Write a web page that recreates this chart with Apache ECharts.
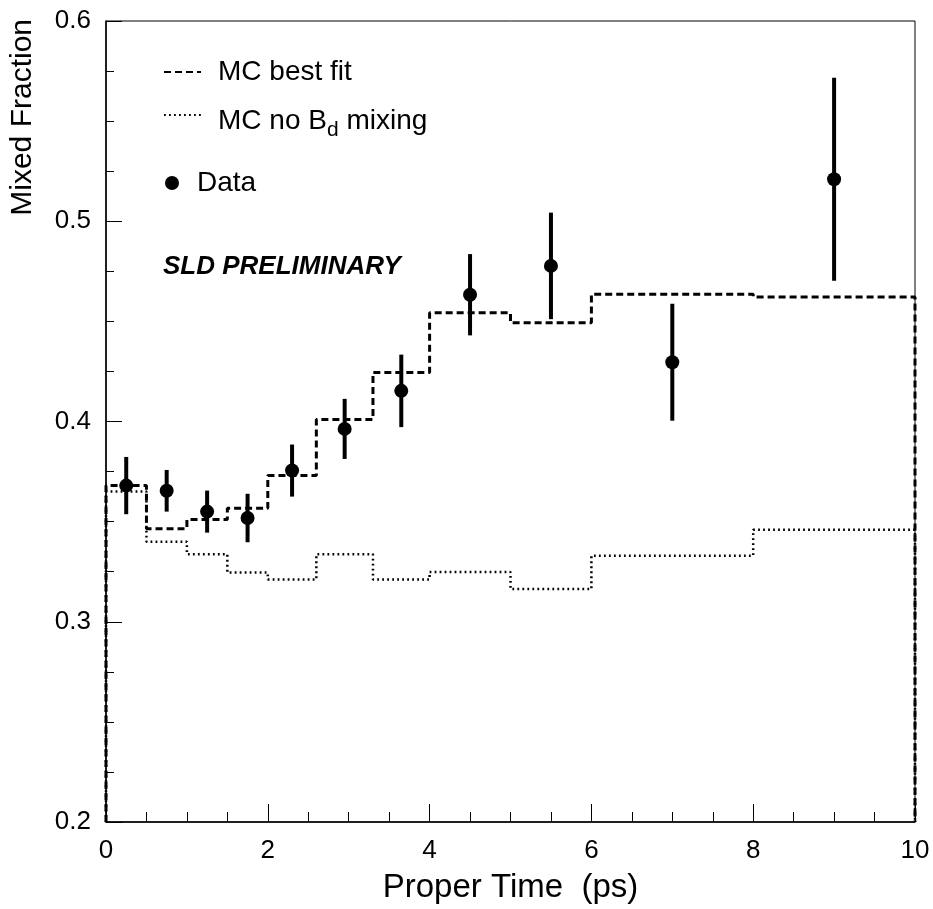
<!DOCTYPE html>
<html>
<head>
<meta charset="utf-8">
<script src="https://cdn.jsdelivr.net/npm/echarts@6/dist/echarts.min.js"></script>
<style>
  html, body { margin: 0; padding: 0; background: #fff; }
  #chart { width: 933px; height: 909px; }
</style>
</head>
<body>
<div id="chart"></div>
<script>
// Proper-time bins (ps) shared by both Monte Carlo histograms
const binEdges = [0, 0.5, 1, 1.5, 2, 2.6, 3.3, 4, 5, 6, 8, 10];
// Mixed fraction per bin, MC with best-fit mixing
const bestFit = [0.368, 0.3465, 0.351, 0.3567, 0.373, 0.401, 0.4245, 0.4543, 0.4493, 0.4635, 0.4622];
// Mixed fraction per bin, MC without B_d mixing
const noMixing = [0.365, 0.340, 0.3337, 0.3246, 0.3211, 0.3337, 0.3211, 0.3249, 0.3163, 0.333, 0.3459];
// Measured points: bin centre, mixed fraction, error
const dataTime = [0.25, 0.75, 1.25, 1.75, 2.3, 2.95, 3.65, 4.5, 5.5, 7.0, 9.0];
const dataFrac = [0.368, 0.3654, 0.355, 0.3518, 0.3755, 0.3963, 0.4153, 0.4633, 0.4777, 0.4296, 0.521];
const dataErr = [0.0143, 0.0104, 0.0105, 0.0121, 0.013, 0.015, 0.0181, 0.0203, 0.0266, 0.0292, 0.0507];
// Axis ranges and ticks
const xRange = [0, 10];
const yRange = [0.2, 0.6];
const xTickStep = 2;
const yTickStep = 0.1;

const FONT = '"Liberation Sans", Arial, Helvetica, sans-serif';

// Build a histogram outline (closed down to the axis floor at both ends)
function histOutline(edges, values, floor) {
  const pts = [[edges[0], floor]];
  for (let i = 0; i < values.length; i++) {
    pts.push([edges[i], values[i]]);
    pts.push([edges[i + 1], values[i]]);
  }
  pts.push([edges[edges.length - 1], floor]);
  return pts;
}

const points = dataTime.map((t, i) => [t, dataFrac[i], dataErr[i]]);

const chart = echarts.init(document.getElementById('chart'), null, { renderer: 'canvas' });

// Legend entries for the histograms show only the line pattern, no marker
const lineLegendItem = { color: 'transparent', borderColor: 'transparent', borderWidth: 0 };

chart.setOption({
  animation: false,
  backgroundColor: '#fff',
  textStyle: { fontFamily: FONT, color: '#000' },
  grid: {
    left: 106, right: 18, top: 21, bottom: 81,
    show: true, borderColor: '#000', borderWidth: 1, backgroundColor: 'transparent'
  },
  xAxis: {
    type: 'value',
    min: xRange[0], max: xRange[1], interval: xTickStep,
    name: 'Proper Time  (ps)',
    nameLocation: 'middle',
    nameGap: 49,
    nameTextStyle: { fontFamily: FONT, fontSize: 33, color: '#000' },
    axisLine: { show: true, lineStyle: { color: '#000', width: 1.5 } },
    axisTick: { show: true, inside: true, length: 18, lineStyle: { color: '#000', width: 1 } },
    minorTick: { show: true, splitNumber: 4, length: 10, lineStyle: { color: '#000', width: 1 } },
    splitLine: { show: false },
    minorSplitLine: { show: false },
    axisLabel: { fontFamily: FONT, fontSize: 26, color: '#000', margin: 16 }
  },
  yAxis: {
    type: 'value',
    min: yRange[0], max: yRange[1], interval: yTickStep,
    axisLine: { show: true, lineStyle: { color: '#000', width: 1.5 } },
    axisTick: { show: true, inside: true, length: 16, lineStyle: { color: '#000', width: 1 } },
    minorTick: { show: true, splitNumber: 4, length: 8, lineStyle: { color: '#000', width: 1 } },
    splitLine: { show: false },
    minorSplitLine: { show: false },
    axisLabel: {
      fontFamily: FONT, fontSize: 26, color: '#000', margin: 15,
      formatter: v => v.toFixed(1)
    }
  },
  legend: [
    {
      data: ['MC best fit'],
      left: 163, top: 58, padding: 0,
      itemWidth: 37, itemHeight: 14,
      itemStyle: lineLegendItem,
      textStyle: { fontFamily: FONT, fontSize: 28, lineHeight: 28, color: '#000', padding: [0, 0, 0, 12] }
    },
    {
      data: ['MC no Bd mixing'],
      left: 163, top: 101, padding: 0,
      itemWidth: 37, itemHeight: 14,
      itemStyle: lineLegendItem,
      formatter: () => '{a|MC no B}{d|d}{a| mixing}',
      textStyle: {
        fontFamily: FONT, fontSize: 28, color: '#000', padding: [0, 0, 0, 12],
        rich: {
          a: { fontFamily: FONT, fontSize: 28, lineHeight: 28, verticalAlign: 'top', padding: [6, 0, 0, 0], color: '#000' },
          d: { fontFamily: FONT, fontSize: 21, lineHeight: 21, verticalAlign: 'top', padding: [19, 0, 0, 0], color: '#000' }
        }
      }
    },
    {
      data: ['Data'],
      left: 165, top: 169, padding: 0,
      itemWidth: 14, itemHeight: 14,
      icon: 'circle',
      itemStyle: { color: '#000', opacity: 1 },
      textStyle: { fontFamily: FONT, fontSize: 28, lineHeight: 28, color: '#000', padding: [0, 0, 0, 13] }
    }
  ],
  graphic: [
    {
      type: 'text',
      x: 23, y: 19,
      rotation: Math.PI / 2,
      style: {
        text: 'Mixed Fraction',
        fontFamily: FONT, fontSize: 30, fill: '#000',
        align: 'right', verticalAlign: 'middle'
      }
    },
    {
      type: 'text',
      x: 163, y: 267,
      style: {
        text: 'SLD PRELIMINARY',
        fontFamily: FONT, fontSize: 26, fontWeight: 'bold', fontStyle: 'italic', fill: '#000',
        align: 'left', verticalAlign: 'middle'
      }
    }
  ],
  series: [
    {
      name: 'MC best fit',
      type: 'line',
      data: histOutline(binEdges, bestFit, yRange[0]),
      symbol: 'none',
      clip: true,
      color: '#000',
      lineStyle: { color: '#000', width: 3, type: [7, 4] },
      z: 3
    },
    {
      name: 'MC no Bd mixing',
      type: 'line',
      data: histOutline(binEdges, noMixing, yRange[0]),
      symbol: 'none',
      clip: true,
      color: '#000',
      lineStyle: { color: '#000', width: 2.5, type: [1.8, 3.2] },
      z: 3
    },
    {
      name: 'Data',
      type: 'custom',
      data: points,
      renderItem: function (params, api) {
        const x = api.value(0), y = api.value(1), e = api.value(2);
        const lo = api.coord([x, y - e]);
        const hi = api.coord([x, y + e]);
        return {
          type: 'line',
          shape: { x1: lo[0], y1: lo[1], x2: hi[0], y2: hi[1] },
          style: { stroke: '#000', lineWidth: 4 }
        };
      },
      color: '#000',
      z: 4
    },
    {
      name: 'Data',
      type: 'scatter',
      data: points.map(p => [p[0], p[1]]),
      symbol: 'circle',
      symbolSize: 14,
      itemStyle: { color: '#000', opacity: 1 },
      z: 5
    }
  ]
});
</script>
</body>
</html>
